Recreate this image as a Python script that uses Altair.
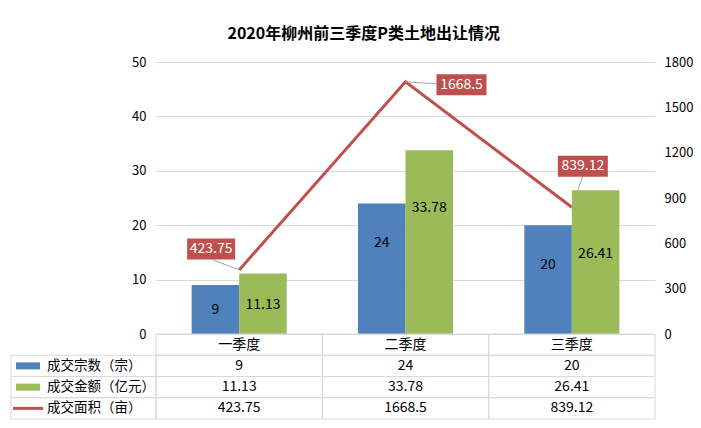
import altair as alt
import pandas as pd

# chart data
quarters = ["一季度", "二季度", "三季度"]
series = ["成交宗数（宗）", "成交金额（亿元）", "成交面积（亩）"]
deal_count = [9, 24, 20]
deal_amount = [11.13, 33.78, 26.41]
deal_area = [423.75, 1668.5, 839.12]
left_ticks = [0, 10, 20, 30, 40, 50]
right_ticks = [0, 300, 600, 900, 1200, 1500, 1800]
title_text = "2020年柳州前三季度P类土地出让情况"

# styles
colors = ["#4F81BD", "#9BBB59", "#C0504D"]
FONT = "Noto Sans CJK SC"
GRID = "#D9D9D9"
PLOT_W, PLOT_H, TABLE_H = 499, 272, 85
# pixel nudges of the bar labels from the bar middle (count bars, then amount bars)
bar_label_dy = [0, -26, -15, 1, -34, -8]
# callout offsets (pixels) from each line point: box centre, leader end, box width
callouts = [
    {"dx": -28, "dy": -21, "lx": -26, "ly": -10, "w": 48},
    {"dx": 56, "dy": 3, "lx": 31, "ly": 2, "w": 50},
    {"dx": 11, "dy": -41, "lx": 11, "ly": -31, "w": 50},
]

bars_df = pd.DataFrame({
    "quarter": quarters * 2,
    "series": [series[0]] * 3 + [series[1]] * 3,
    "value": deal_count + deal_amount,
    "label": [str(v) for v in deal_count + deal_amount],
})
line_df = pd.DataFrame({
    "quarter": quarters,
    "area": deal_area,
    "label": [str(v) for v in deal_area],
})

x_enc = alt.X("quarter:N", sort=quarters, axis=None,
              scale=alt.Scale(domain=quarters, paddingInner=0, paddingOuter=0))
x_off = alt.XOffset("series:N", sort=series[:2],
                    scale=alt.Scale(domain=series[:2], paddingInner=0, paddingOuter=0.75))
color_enc = alt.Color("series:N", scale=alt.Scale(domain=series, range=colors), legend=None)

left_axis = alt.Axis(values=left_ticks, title=None, grid=True, gridColor=GRID,
                     domain=False, ticks=False, labelPadding=10, labelFontSize=13,
                     labelColor="#000", labelFont=FONT)
right_axis = alt.Axis(orient="right", values=right_ticks, format="d", title=None, grid=False,
                      domain=False, ticks=False, labelPadding=9, labelFontSize=13,
                      labelColor="#000", labelFont=FONT)

bars = alt.Chart(bars_df).mark_bar().encode(
    x=x_enc,
    xOffset=x_off,
    y=alt.Y("value:Q", scale=alt.Scale(domain=[0, 50]), axis=left_axis),
    color=color_enc,
)

bar_layers = [bars]
for row_i, dy in enumerate(bar_label_dy):
    txt = alt.Chart(bars_df.iloc[[row_i]]).transform_calculate(
        mid="datum.value / 2"
    ).mark_text(fontSize=14, color="#000", font=FONT, baseline="middle", dy=dy).encode(
        x=x_enc,
        xOffset=x_off,
        y=alt.Y("mid:Q", scale=alt.Scale(domain=[0, 50]), axis=left_axis),
        text="label:N",
    )
    bar_layers.append(txt)

y_area = alt.Y("area:Q", scale=alt.Scale(domain=[0, 1800]), axis=right_axis)

line = alt.Chart(line_df).mark_line(color=colors[2], strokeWidth=3).encode(
    x=x_enc,
    y=y_area,
)

line_layers = [line]
for q, c in zip(quarters, callouts):
    base = alt.Chart(line_df).transform_filter(alt.datum.quarter == q)
    s = 10  # custom symbol scale: sqrt(400) / 2
    leader_path = f"M0,0L{c['lx'] / s},{c['ly'] / s}"
    x0 = (c["dx"] - c["w"] / 2) / s
    y0 = (c["dy"] - 10.5) / s
    box_path = f"M{x0},{y0}h{c['w'] / s}v{21 / s}h{-c['w'] / s}Z"
    leader = base.mark_point(shape=leader_path, size=400, filled=False,
                             stroke="#A6A6A6", strokeWidth=1, opacity=1).encode(x=x_enc, y=y_area)
    box = base.mark_point(shape=box_path, size=400, filled=True, fill=colors[2],
                          strokeWidth=0, opacity=1).encode(x=x_enc, y=y_area)
    txt = base.mark_text(dx=c["dx"], dy=c["dy"], color="white", fontSize=14,
                         font=FONT, baseline="middle").encode(x=x_enc, y=y_area, text="label:N")
    line_layers += [leader, box, txt]

main = alt.layer(
    alt.layer(*bar_layers),
    alt.layer(*line_layers),
).resolve_scale(y="independent").properties(width=PLOT_W, height=PLOT_H)

# data table under the plot
row_keys = ["季度"] + series
cells = []
for i, q in enumerate(quarters):
    cells.append({"quarter": q, "row": "季度", "text": q})
    for s_name, vals in zip(series, [deal_count, deal_amount, deal_area]):
        cells.append({"quarter": q, "row": s_name, "text": str(vals[i])})
cells_df = pd.DataFrame(cells)
keys_df = pd.DataFrame({"row": series})

x_tab = alt.X("quarter:N", sort=quarters, axis=None,
              scale=alt.Scale(domain=quarters, paddingInner=0, paddingOuter=0))
y_tab = alt.Y("row:N", sort=row_keys, axis=None,
              scale=alt.Scale(domain=row_keys, paddingInner=0, paddingOuter=0))

cell_box = alt.Chart(cells_df).mark_rect(fillOpacity=0, stroke=GRID, strokeWidth=1).encode(
    x=x_tab, y=y_tab)
cell_text = alt.Chart(cells_df).mark_text(fontSize=14, font=FONT, color="#000").encode(
    x=x_tab, y=y_tab, text="text:N")
key_box = alt.Chart(keys_df).mark_rect(fillOpacity=0, stroke=GRID, strokeWidth=1).encode(
    x=alt.value(-145), x2=alt.value(0), y=y_tab)
key_swatch = alt.Chart(keys_df).mark_point(filled=True, size=900, opacity=1, strokeWidth=0).encode(
    x=alt.value(-128),
    y=y_tab,
    color=alt.Color("row:N", scale=alt.Scale(domain=series, range=colors), legend=None),
    shape=alt.Shape("row:N", legend=None, scale=alt.Scale(
        domain=series,
        range=["M-0.8,-0.233H0.8V0.233H-0.8Z", "M-0.8,-0.233H0.8V0.233H-0.8Z",
               "M-1,-0.1H1V0.1H-1Z"])),
)
key_text = alt.Chart(keys_df).mark_text(align="left", fontSize=13.5, font=FONT, color="#000").encode(
    x=alt.value(-109), y=y_tab, text="row:N")

table = alt.layer(cell_box, cell_text, key_box, key_swatch, key_text).properties(
    width=PLOT_W, height=TABLE_H)

chart = alt.vconcat(main, table, spacing=0, bounds="flush").properties(
    title=alt.TitleParams(title_text, font=FONT, fontSize=16, fontWeight="bold",
                          color="#000", anchor="middle", offset=14, dx=12),
    padding={"left": 2, "top": 18, "right": 0, "bottom": 0},
).configure_view(strokeWidth=0)

chart.save("out.html", embed_options={"renderer": "svg", "actions": False})
